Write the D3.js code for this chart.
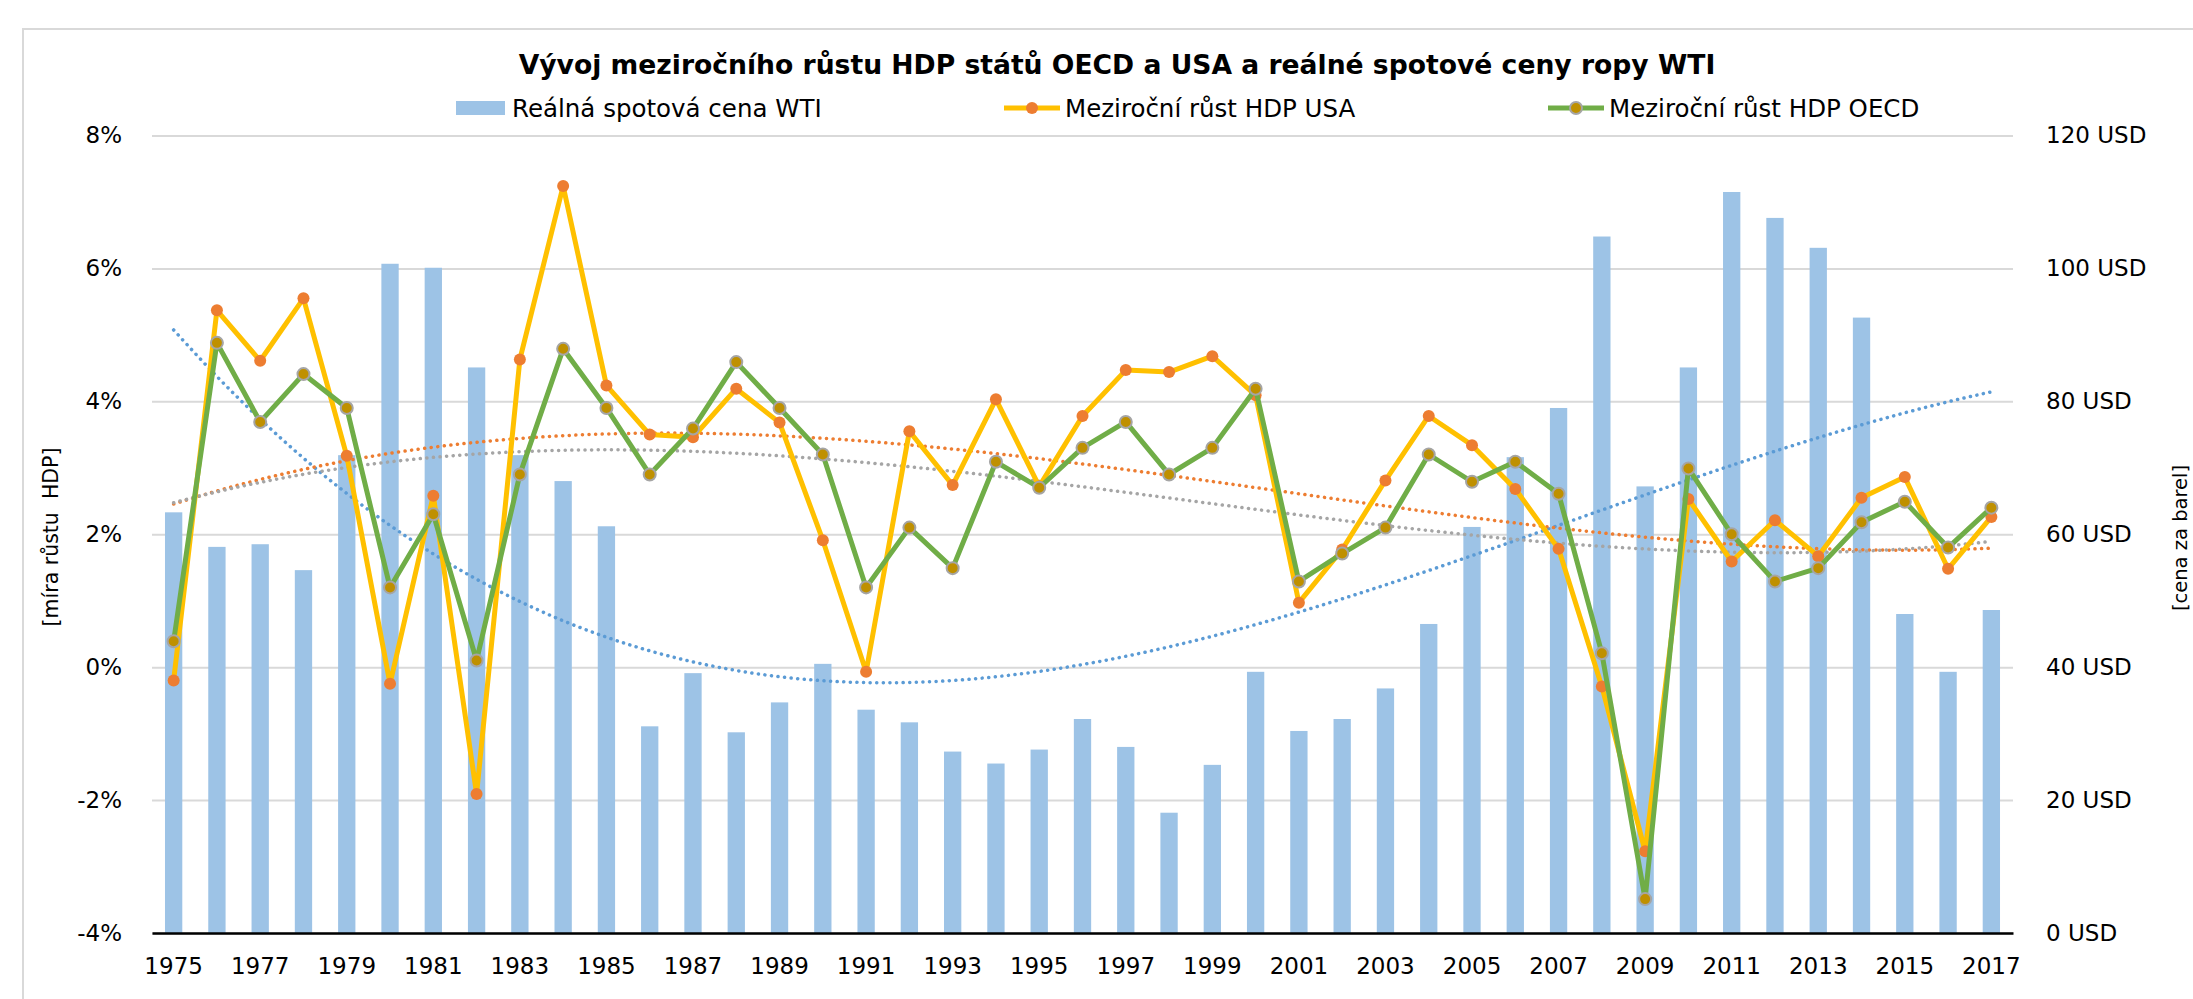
<!DOCTYPE html>
<html lang="cs">
<head>
<meta charset="utf-8">
<script src="https://cdn.jsdelivr.net/npm/d3@7"></script>
<style>
  html, body { margin: 0; padding: 0; background: #fff; overflow: hidden; }
  svg { display: block; }
  text { font-family: "DejaVu Sans", Verdana, sans-serif; fill: #000; }
</style>
</head>
<body>
<svg id="chart"></svg>
<script>
// --- data ---
const years = [
  1975, 1976, 1977, 1978, 1979, 1980, 1981, 1982, 1983, 1984, 1985,
  1986, 1987, 1988, 1989, 1990, 1991, 1992, 1993, 1994, 1995, 1996,
  1997, 1998, 1999, 2000, 2001, 2002, 2003, 2004, 2005, 2006, 2007,
  2008, 2009, 2010, 2011, 2012, 2013, 2014, 2015, 2016, 2017
];

// real WTI spot price, USD per barrel (right axis)
const oilPrice = [
  63.3, 58.1, 58.5, 54.6, 71.9, 100.7, 100.1, 85.1, 71.9, 68.0, 61.2,
  31.1, 39.1, 30.2, 34.7, 40.5, 33.6, 31.7, 27.3, 25.5, 27.6, 32.2,
  28.0, 18.1, 25.3, 39.3, 30.4, 32.2, 36.8, 46.5, 61.1, 71.6, 79.0,
  104.8, 67.2, 85.1, 111.5, 107.6, 103.1, 92.6, 48.0, 39.3, 48.6
];

// year-on-year GDP growth, % (left axis)
const gdpUsa = [
  -0.2, 5.37, 4.61, 5.55, 3.18, -0.25, 2.58, -1.91, 4.63, 7.24, 4.24,
  3.50, 3.46, 4.19, 3.68, 1.91, -0.07, 3.55, 2.74, 4.03, 2.72, 3.78,
  4.47, 4.44, 4.68, 4.09, 0.97, 1.77, 2.81, 3.78, 3.34, 2.68, 1.78,
  -0.29, -2.77, 2.53, 1.59, 2.21, 1.67, 2.55, 2.86, 1.48, 2.26
];

const gdpOecd = [
  0.39, 4.88, 3.69, 4.41, 3.90, 1.20, 2.30, 0.10, 2.90, 4.79, 3.90,
  2.90, 3.59, 4.59, 3.90, 3.20, 1.20, 2.10, 1.49, 3.09, 2.70, 3.30,
  3.69, 2.90, 3.30, 4.19, 1.29, 1.71, 2.10, 3.20, 2.79, 3.09, 2.61,
  0.21, -3.49, 2.99, 2.00, 1.29, 1.49, 2.18, 2.49, 1.80, 2.40
];

const gdpTicks = [-4, -2, 0, 2, 4, 6, 8];
const oilTicks = [0, 20, 40, 60, 80, 100, 120];
const yearTicks = years.filter((y) => y % 2 === 1);

const title = "Vývoj meziročního růstu HDP států OECD a USA a reálné spotové ceny ropy WTI";
const seriesNames = ["Reálná spotová cena WTI", "Meziroční růst HDP USA", "Meziroční růst HDP OECD"];
const leftTitle = "[míra růstu  HDP]";
const rightTitle = "[cena za barel]";

// polynomial trendline order (Excel-style, x = 1..n)
const trendOrder = 3;

// --- layout ---
const W = 2193, H = 999;
const plot = { left: 152, right: 2013, top: 135.5, bottom: 933 };

const colors = {
  bar: "#9dc3e6",
  usaLine: "#ffc000",
  usaMarker: "#ed7d31",
  oecdLine: "#70ad47",
  oecdMarker: "#bf9000",
  oecdMarkerStroke: "#a5a5a5",
  grid: "#d9d9d9",
  trendOil: "#5b9bd5",
  trendUsa: "#ed7d31",
  trendOecd: "#a5a5a5",
};

const polyFit = (ys, order) => {
  const m = order + 1;
  const A = Array.from({ length: m }, () => new Array(m + 1).fill(0));
  ys.forEach((yv, k) => {
    const xv = k + 1;
    for (let i = 0; i < m; i++) {
      for (let j = 0; j < m; j++) A[i][j] += Math.pow(xv, i + j);
      A[i][m] += Math.pow(xv, i) * yv;
    }
  });
  // gauss-jordan elimination
  for (let c = 0; c < m; c++) {
    let p = c;
    for (let r = c + 1; r < m; r++) if (Math.abs(A[r][c]) > Math.abs(A[p][c])) p = r;
    [A[c], A[p]] = [A[p], A[c]];
    for (let r = 0; r < m; r++) {
      if (r === c) continue;
      const f = A[r][c] / A[c][c];
      for (let k = c; k <= m; k++) A[r][k] -= f * A[c][k];
    }
  }
  const coef = A.map((row, i) => row[m] / row[i]);
  return ys.map((_, k) => coef.reduce((s, cf, i) => s + cf * Math.pow(k + 1, i), 0));
};

const svg = d3.select("#chart").attr("width", W).attr("height", H);

// chart area border
svg.append("rect")
  .attr("x", 23).attr("y", 29)
  .attr("width", W).attr("height", H)
  .attr("fill", "#fff")
  .attr("stroke", colors.grid)
  .attr("stroke-width", 2);

const x = d3.scaleBand()
  .domain(years)
  .range([plot.left, plot.right])
  .paddingInner(0.6)
  .paddingOuter(0.3);
const cx = (yr) => x(yr) + x.bandwidth() / 2;

const yGdp = d3.scaleLinear().domain([-4, 8]).range([plot.bottom, plot.top]);
const yOil = d3.scaleLinear().domain([0, 120]).range([plot.bottom, plot.top]);

// left axis + gridlines
const leftAxis = svg.append("g")
  .attr("transform", `translate(${plot.left},0)`)
  .call(
    d3.axisLeft(yGdp)
      .tickValues(gdpTicks)
      .tickFormat((d) => d + "%")
      .tickSize(-(plot.right - plot.left))
      .tickPadding(30)
  );
leftAxis.select(".domain").remove();
leftAxis.selectAll("line").attr("stroke", colors.grid).attr("stroke-width", 2);
leftAxis.selectAll("text").attr("font-size", 23).style("font-family", "DejaVu Sans, sans-serif").attr("fill", "#000");

// right axis
const rightAxis = svg.append("g")
  .attr("transform", `translate(${plot.right},0)`)
  .call(
    d3.axisRight(yOil)
      .tickValues(oilTicks)
      .tickFormat((d) => d + " USD")
      .tickSize(0)
      .tickPadding(33)
  );
rightAxis.select(".domain").remove();
rightAxis.selectAll("text").attr("font-size", 23).style("font-family", "DejaVu Sans, sans-serif").attr("fill", "#000");

// bars
svg.append("g")
  .selectAll("rect")
  .data(years)
  .join("rect")
  .attr("x", (d) => x(d))
  .attr("width", x.bandwidth())
  .attr("y", (d, i) => yOil(oilPrice[i]))
  .attr("height", (d, i) => yOil(0) - yOil(oilPrice[i]))
  .attr("fill", colors.bar);

// bottom axis
const bottomAxis = svg.append("g")
  .attr("transform", `translate(0,${plot.bottom})`)
  .call(
    d3.axisBottom(x)
      .tickValues(yearTicks)
      .tickSize(0)
      .tickSizeOuter(0)
      .tickPadding(25)
  );
bottomAxis.select(".domain").attr("stroke", "#000").attr("stroke-width", 2.5);
bottomAxis.selectAll("text").attr("font-size", 23).style("font-family", "DejaVu Sans, sans-serif").attr("fill", "#000");

// trendlines (dotted)
const trends = [
  { values: polyFit(oilPrice, trendOrder), scale: yOil, color: colors.trendOil },
  { values: polyFit(gdpUsa, trendOrder), scale: yGdp, color: colors.trendUsa },
  { values: polyFit(gdpOecd, trendOrder), scale: yGdp, color: colors.trendOecd },
];
trends.forEach((t) => {
  svg.append("path")
    .datum(t.values)
    .attr("fill", "none")
    .attr("stroke", t.color)
    .attr("stroke-width", 3.5)
    .attr("stroke-linecap", "round")
    .attr("stroke-dasharray", "0.1 6.5")
    .attr("d", d3.line().curve(d3.curveNatural).x((d, i) => cx(years[i])).y((d) => t.scale(d)));
});

// GDP lines
const drawSeries = (values, lineColor, markerFill, markerStroke) => {
  svg.append("path")
    .datum(values)
    .attr("fill", "none")
    .attr("stroke", lineColor)
    .attr("stroke-width", 5)
    .attr("stroke-linejoin", "round")
    .attr("d", d3.line().x((d, i) => cx(years[i])).y((d) => yGdp(d)));
  svg.append("g")
    .selectAll("circle")
    .data(values)
    .join("circle")
    .attr("cx", (d, i) => cx(years[i]))
    .attr("cy", (d) => yGdp(d))
    .attr("r", 6)
    .attr("fill", markerFill)
    .attr("stroke", markerStroke || "none")
    .attr("stroke-width", 2);
};
drawSeries(gdpUsa, colors.usaLine, colors.usaMarker, null);
drawSeries(gdpOecd, colors.oecdLine, colors.oecdMarker, colors.oecdMarkerStroke);

// title
svg.append("text")
  .attr("x", 1117)
  .attr("y", 74)
  .attr("text-anchor", "middle")
  .attr("font-size", 26.6)
  .attr("font-weight", "bold")
  .text(title);

// legend
const legend = svg.append("g").attr("font-size", 24.5);
legend.append("rect")
  .attr("x", 456).attr("y", 101)
  .attr("width", 49).attr("height", 14)
  .attr("fill", colors.bar);
legend.append("text").attr("x", 512).attr("y", 117).text(seriesNames[0]);

const lineKeys = [
  { x0: 1004, text: 1065, name: seriesNames[1], line: colors.usaLine, fill: colors.usaMarker, stroke: null },
  { x0: 1548, text: 1609, name: seriesNames[2], line: colors.oecdLine, fill: colors.oecdMarker, stroke: colors.oecdMarkerStroke },
];
lineKeys.forEach((k) => {
  legend.append("line")
    .attr("x1", k.x0).attr("x2", k.x0 + 56)
    .attr("y1", 108).attr("y2", 108)
    .attr("stroke", k.line).attr("stroke-width", 5);
  legend.append("circle")
    .attr("cx", k.x0 + 28).attr("cy", 108).attr("r", 6)
    .attr("fill", k.fill)
    .attr("stroke", k.stroke || "none").attr("stroke-width", 2);
  legend.append("text").attr("x", k.text).attr("y", 117).text(k.name);
});

// axis titles
svg.append("text")
  .attr("transform", "translate(58,537) rotate(-90)")
  .attr("text-anchor", "middle")
  .attr("font-size", 20.5)
  .style("white-space", "pre")
  .text(leftTitle);
svg.append("text")
  .attr("transform", "translate(2187,538) rotate(-90)")
  .attr("text-anchor", "middle")
  .attr("font-size", 19.5)
  .text(rightTitle);
</script>
</body>
</html>
